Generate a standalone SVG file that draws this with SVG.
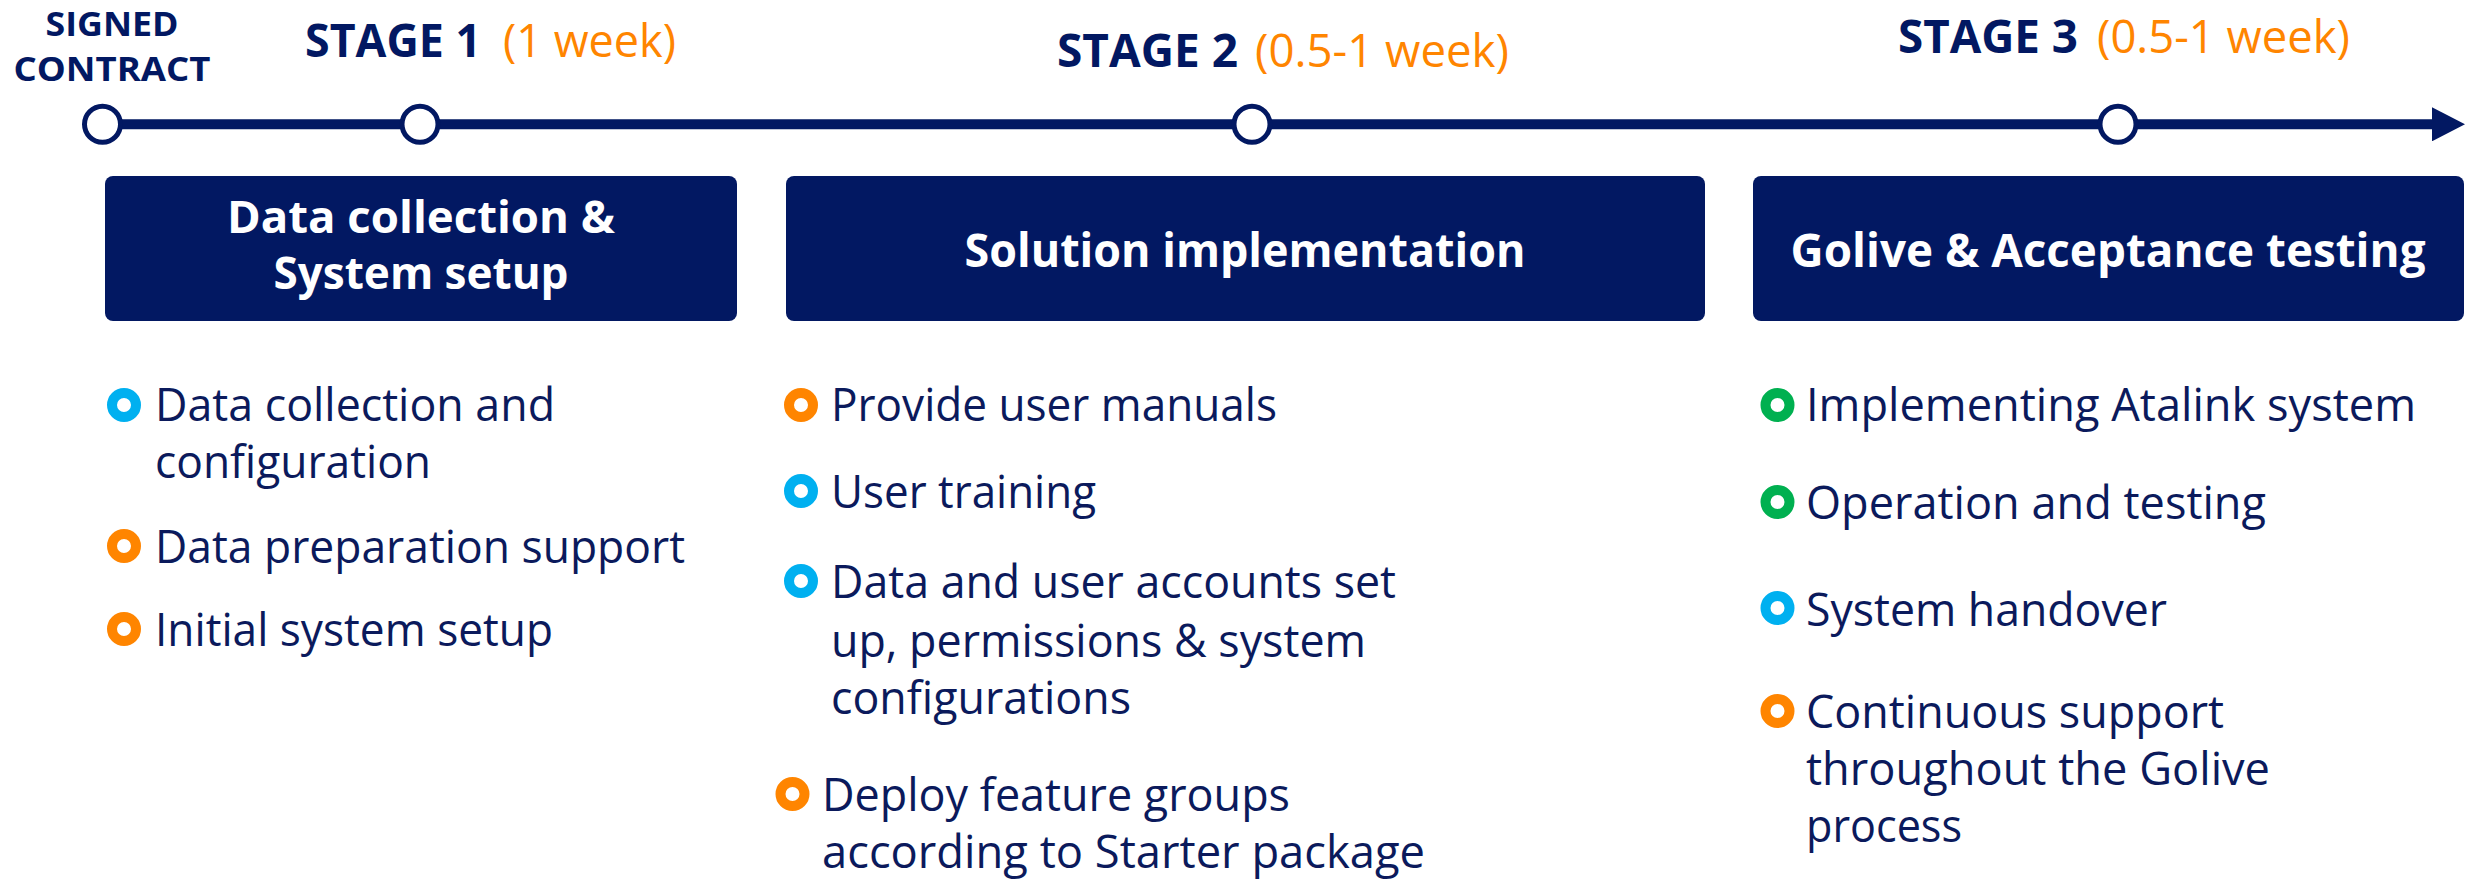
<svg xmlns="http://www.w3.org/2000/svg" width="2481" height="880" viewBox="0 0 2481 880">
<defs>
<style>
text{font-family:"Open Sans","Noto Sans","Liberation Sans",sans-serif}
.hd{font-weight:700;font-size:46px;fill:#021862}
.dur{font-weight:400;font-size:46px;fill:#FF8500}
.sc{font-weight:700;font-size:34px;fill:#021862;text-anchor:middle}
.bx{fill:#021862}
.bt{font-weight:700;font-size:46px;fill:#ffffff;text-anchor:middle}
.bt2{font-size:45px}
.tx{font-weight:400;font-size:45px;fill:#0B1A5C}
.ring{fill:none;stroke-width:10}
.o{stroke:#FF8500}.b{stroke:#00B0F0}.g{stroke:#00B050}
.ms{fill:#ffffff;stroke:#021862;stroke-width:5}
.axis{stroke:#021862;stroke-width:10;fill:none}
</style>
<marker id="ah" markerUnits="userSpaceOnUse" markerWidth="34" markerHeight="34" refX="0" refY="17" orient="auto" viewBox="0 0 34 34"><path d="M0,0 L33,17 L0,34 Z" fill="#021862"/></marker>
</defs>
<rect width="2481" height="880" fill="#ffffff"/>

<g id="connectors">
<line class="axis" x1="103" y1="124.3" x2="2432" y2="124.3" marker-end="url(#ah)"/>
</g>

<g id="milestone-signed">
<circle class="ms" cx="102.5" cy="124.3" r="18"/>
<text class="sc"><tspan x="112" y="36" textLength="133" lengthAdjust="spacingAndGlyphs">SIGNED</tspan><tspan x="112" y="81" textLength="197" lengthAdjust="spacingAndGlyphs">CONTRACT</tspan></text>
</g>

<g id="milestone-stage1">
<circle class="ms" cx="420" cy="124.3" r="18"/>
<text class="hd" x="305" y="57" textLength="176" lengthAdjust="spacingAndGlyphs">STAGE 1</text>
<text class="dur" x="503" y="57" textLength="173" lengthAdjust="spacingAndGlyphs">(1 week)</text>
</g>

<g id="milestone-stage2">
<circle class="ms" cx="1252" cy="124.3" r="18"/>
<text class="hd" x="1057" y="67" textLength="181" lengthAdjust="spacingAndGlyphs">STAGE 2</text>
<text class="dur" x="1255" y="67" textLength="254" lengthAdjust="spacingAndGlyphs">(0.5-1 week)</text>
</g>

<g id="milestone-stage3">
<circle class="ms" cx="2118" cy="124.3" r="18"/>
<text class="hd" x="1898" y="53" textLength="180" lengthAdjust="spacingAndGlyphs">STAGE 3</text>
<text class="dur" x="2097" y="53" textLength="253" lengthAdjust="spacingAndGlyphs">(0.5-1 week)</text>
</g>

<g id="box-stage1">
<rect class="bx" x="105" y="176" width="632" height="145" rx="8"/>
<text class="bt bt2"><tspan x="421" y="233" textLength="388" lengthAdjust="spacingAndGlyphs">Data collection &amp;</tspan><tspan x="421" y="289" textLength="295" lengthAdjust="spacingAndGlyphs">System setup</tspan></text>
</g>

<g id="box-stage2">
<rect class="bx" x="786" y="176" width="919" height="145" rx="8"/>
<text class="bt" x="1245" y="267" textLength="561" lengthAdjust="spacingAndGlyphs">Solution implementation</text>
</g>

<g id="box-stage3">
<rect class="bx" x="1753" y="176" width="711" height="145" rx="8"/>
<text class="bt" x="2108" y="267" textLength="635" lengthAdjust="spacingAndGlyphs">Golive &amp; Acceptance testing</text>
</g>

<g id="tasks-stage1">
<g id="t1-1"><circle class="ring b" cx="124" cy="405" r="12"/>
<text class="tx"><tspan x="155" y="421" textLength="400" lengthAdjust="spacingAndGlyphs">Data collection and</tspan><tspan x="155" y="478" textLength="276" lengthAdjust="spacingAndGlyphs">configuration</tspan></text></g>
<g id="t1-2"><circle class="ring o" cx="124" cy="546" r="12"/>
<text class="tx" x="155" y="563" textLength="530" lengthAdjust="spacingAndGlyphs">Data preparation support</text></g>
<g id="t1-3"><circle class="ring o" cx="124" cy="629" r="12"/>
<text class="tx" x="155" y="646" textLength="398" lengthAdjust="spacingAndGlyphs">Initial system setup</text></g>
</g>

<g id="tasks-stage2">
<g id="t2-1"><circle class="ring o" cx="801" cy="405" r="12"/>
<text class="tx" x="831" y="421" textLength="446" lengthAdjust="spacingAndGlyphs">Provide user manuals</text></g>
<g id="t2-2"><circle class="ring b" cx="801" cy="491" r="12"/>
<text class="tx" x="831" y="508" textLength="265" lengthAdjust="spacingAndGlyphs">User training</text></g>
<g id="t2-3"><circle class="ring b" cx="801" cy="581" r="12"/>
<text class="tx"><tspan x="831" y="598" textLength="565" lengthAdjust="spacingAndGlyphs">Data and user accounts set</tspan><tspan x="831" y="657" textLength="535" lengthAdjust="spacingAndGlyphs">up, permissions &amp; system</tspan><tspan x="831" y="714" textLength="300" lengthAdjust="spacingAndGlyphs">configurations</tspan></text></g>
<g id="t2-4"><circle class="ring o" cx="792.5" cy="794" r="12"/>
<text class="tx"><tspan x="822" y="811" textLength="468" lengthAdjust="spacingAndGlyphs">Deploy feature groups</tspan><tspan x="822" y="868" textLength="603" lengthAdjust="spacingAndGlyphs">according to Starter package</tspan></text></g>
</g>

<g id="tasks-stage3">
<g id="t3-1"><circle class="ring g" cx="1777.5" cy="405" r="12"/>
<text class="tx" x="1806" y="421" textLength="610" lengthAdjust="spacingAndGlyphs">Implementing Atalink system</text></g>
<g id="t3-2"><circle class="ring g" cx="1777.5" cy="502" r="12"/>
<text class="tx" x="1806" y="519" textLength="460" lengthAdjust="spacingAndGlyphs">Operation and testing</text></g>
<g id="t3-3"><circle class="ring b" cx="1777.5" cy="608" r="12"/>
<text class="tx" x="1806" y="626" textLength="361" lengthAdjust="spacingAndGlyphs">System handover</text></g>
<g id="t3-4"><circle class="ring o" cx="1777.5" cy="711" r="12"/>
<text class="tx"><tspan x="1806" y="728" textLength="418" lengthAdjust="spacingAndGlyphs">Continuous support</tspan><tspan x="1806" y="785" textLength="464" lengthAdjust="spacingAndGlyphs">throughout the Golive</tspan><tspan x="1806" y="842" textLength="156" lengthAdjust="spacingAndGlyphs">process</tspan></text></g>
</g>
</svg>
